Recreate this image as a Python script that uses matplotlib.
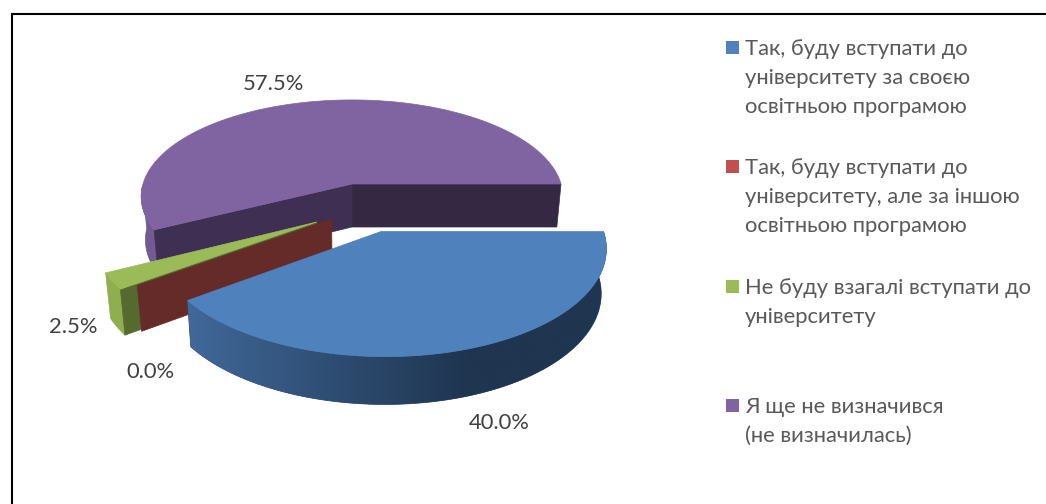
import numpy as np
import matplotlib
matplotlib.use("Agg")
import matplotlib.pyplot as plt
from matplotlib.colors import LinearSegmentedColormap
from matplotlib.patches import Polygon, Rectangle

plt.rcParams["font.family"] = ["Lato", "Open Sans", "DejaVu Sans"]

labels = [
    "Так, буду вступати до\nуніверситету за своєю\nосвітньою програмою",
    "Так, буду вступати до\nуніверситету, але за іншою\nосвітньою програмою",
    "Не буду взагалі вступати до\nуніверситету",
    "Я ще не визначився\n(не визначилась)",
]
values = [40.0, 0.0, 2.5, 57.5]
colors = ["#4F81BD", "#C0504D", "#9BBB59", "#8064A2"]

# pie geometry, in pixels of the 1046x504 picture
CX, CY = 352, 184
RX, RY = 209, 95
PERSP = 0.13
DEPTH = 43
# how far each slice is pulled out of the pie (disc units)
shift_u = [0.13, -0.093, -0.16, 0.0]
shift_v = [0.47, 0.35, 0.38, 0.0]
label_pos = [(499, 423), (150, 372), (73, 327), (273, 84)]
legend_y = [49, 168, 288, 407]
line_gap = 29


def project(u, v, h=0.0):
    u, v = np.asarray(u, float), np.asarray(v, float)
    s = 1 / (1 - PERSP * v)
    x = CX + RX * u * s * (1 - 0.02 * h)
    y = CY + RY * v * s + h * DEPTH * np.sqrt(s)
    return np.column_stack([x, y])


def shade(ax, pts, color, z):
    patch = Polygon(pts, closed=True, facecolor=color, edgecolor=color, lw=0.5, zorder=z)
    ax.add_patch(patch)
    return patch


def radial_wall(ax, du, dv, angle, color, z):
    u = [du, du + np.cos(angle)]
    v = [dv, dv + np.sin(angle)]
    shade(ax, np.vstack([project(u, v), project(u[::-1], v[::-1], 1.0)]), color, z)


fig = plt.figure(figsize=(10.46, 5.04), dpi=100)
ax = fig.add_axes([0, 0, 1, 1])
ax.axis("off")

# angles run clockwise on screen from 3 o'clock, v grows towards the viewer
edges = np.radians(np.concatenate([[0], np.cumsum(values)]) * 3.6)

# purple slice first, it sits at the back
t = np.linspace(edges[3], edges[4], 200)
u, v = np.cos(t), np.sin(t)
rim = t <= np.pi
shade(ax, np.vstack([project(u[rim], v[rim]), project(u[rim][::-1], v[rim][::-1], 1.0)]), "#735A93", 2)
radial_wall(ax, 0, 0, edges[4], "#352842", 3)
radial_wall(ax, 0, 0, edges[3], "#3E2F53", 3)
shade(ax, np.vstack([project(0, 0), project(u, v)]), colors[3], 4)

# green slice
t = np.linspace(edges[2], edges[3], 30)
u, v = shift_u[2] + np.cos(t), shift_v[2] + np.sin(t)
shade(ax, np.vstack([project(u, v), project(u[::-1], v[::-1], 1.0)]), "#8FAE4E", 5)
radial_wall(ax, shift_u[2], shift_v[2], edges[2], "#546A2E", 6)
shade(ax, np.vstack([project(shift_u[2], shift_v[2]), project(u, v)]), colors[2], 7)

# red slice has no width, only its wall shows
radial_wall(ax, shift_u[1], shift_v[1], edges[1], "#652B29", 8)

# blue slice, rim gets darker from left to right
t = np.linspace(edges[1], edges[0], 240)
u, v = shift_u[0] + np.cos(t), shift_v[0] + np.sin(t)
top, bottom = project(u, v), project(u, v, 1.0)
rim_patch = shade(ax, np.vstack([top, bottom[::-1]]), "#2F4E74", 9)
rim_cmap = LinearSegmentedColormap.from_list("rim", ["#41699A", "#2F4E74", "#1F3550", "#1F3550"])
grad = ax.imshow(np.linspace(0, 1, 256)[None, :], cmap=rim_cmap, aspect="auto",
                 extent=(185, 610, 410, 230), zorder=9.5)
grad.set_clip_path(rim_patch)
shade(ax, np.vstack([project(shift_u[0], shift_v[0]), top]), colors[0], 10)

for val, (x, y) in zip(values, label_pos):
    ax.text(x, y, f"{val:.1f}%", fontsize=15.8, color="#404040", ha="center", va="center", zorder=12)

for lab, col, y in zip(labels, colors, legend_y):
    ax.add_patch(Rectangle((726, y - 8), 13, 13, facecolor=col, edgecolor="none"))
    for i, line in enumerate(lab.split("\n")):
        ax.text(745, y + i * line_gap, line, fontsize=15.8, color="#595959", ha="left", va="center")

# frame of the screenshot: only top and left are visible
ax.plot([11, 1046], [14, 14], color="black", lw=1.5, solid_capstyle="butt")
ax.plot([12, 12], [13, 504], color="black", lw=1.5, solid_capstyle="butt")

ax.set_xlim(0, 1046)
ax.set_ylim(504, 0)
fig.savefig("out.png", dpi=100)
